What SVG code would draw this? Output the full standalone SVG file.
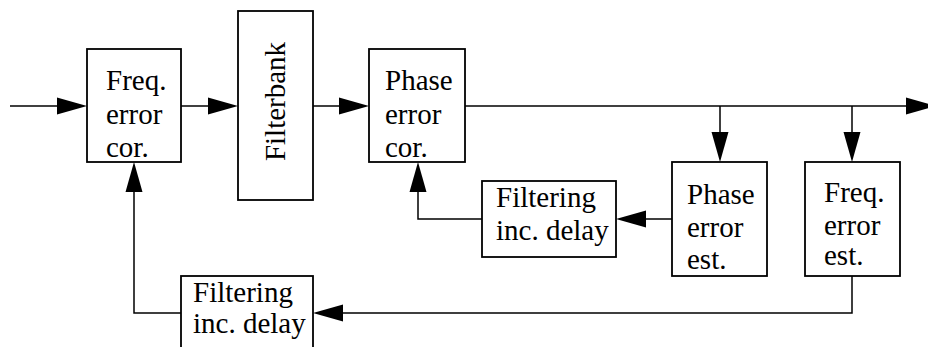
<svg xmlns="http://www.w3.org/2000/svg" width="928" height="347" viewBox="0 0 928 347">
<style>
rect.box{fill:#fff;stroke:#000;stroke-width:1.8}
.ln{fill:none;stroke:#000;stroke-width:1.5}
.ah{fill:#000;stroke:none}
text{font-family:"Liberation Serif","Times New Roman",serif;font-size:29px;fill:#000}
</style>
<rect width="928" height="347" fill="#fff"/>
<g id="connectors">
<path class="ln" d="M10,106 H60"/>
<polygon class="ah" points="87,106 57,97.5 57,114.5"/>
<path class="ln" d="M181,106 H210"/>
<polygon class="ah" points="238,106 208,97.5 208,114.5"/>
<path class="ln" d="M313,106 H342"/>
<polygon class="ah" points="369,106 339,97.5 339,114.5"/>
<path class="ln" d="M465,106 H910"/>
<polygon class="ah" points="936,106 906,97.5 906,114.5"/>
<path class="ln" d="M720,106 V135"/>
<polygon class="ah" points="720,162 711.5,132 728.5,132"/>
<path class="ln" d="M852,106 V135"/>
<polygon class="ah" points="852,162 843.5,132 860.5,132"/>
<path class="ln" d="M672,219 H644"/>
<polygon class="ah" points="616,219 646,210.5 646,227.5"/>
<path class="ln" d="M482,219 H418 V190"/>
<polygon class="ah" points="418,162 409.5,192 426.5,192"/>
<path class="ln" d="M852,276 V313 H340"/>
<polygon class="ah" points="313,313 343,304.5 343,321.5"/>
<path class="ln" d="M181,313 H134 V190"/>
<polygon class="ah" points="134,162 125.5,192 142.5,192"/>
</g>
<g id="freq-cor">
<rect class="box" x="87" y="49" width="94" height="113"/>
<text x="106" y="90">Freq.</text>
<text x="106" y="124">error</text>
<text x="106" y="157">cor.</text>
</g>
<g id="filterbank">
<rect class="box" x="238" y="11" width="75" height="189"/>
<text transform="translate(285,101.5) rotate(-90)" text-anchor="middle">Filterbank</text>
</g>
<g id="phase-cor">
<rect class="box" x="369" y="49" width="96" height="113"/>
<text x="385" y="90">Phase</text>
<text x="385" y="124">error</text>
<text x="385" y="157">cor.</text>
</g>
<g id="phase-est">
<rect class="box" x="672" y="162" width="95" height="114"/>
<text x="687" y="204">Phase</text>
<text x="687" y="237">error</text>
<text x="687" y="269">est.</text>
</g>
<g id="freq-est">
<rect class="box" x="805" y="162" width="95" height="114"/>
<text x="824" y="202">Freq.</text>
<text x="824" y="235">error</text>
<text x="824" y="265">est.</text>
</g>
<g id="filter-upper">
<rect class="box" x="482" y="181" width="134" height="76"/>
<text x="496" y="207">Filtering</text>
<text x="496" y="240">inc. delay</text>
</g>
<g id="filter-lower">
<rect class="box" x="181" y="276" width="132" height="80"/>
<text x="193" y="302">Filtering</text>
<text x="193" y="333">inc. delay</text>
</g>
</svg>
